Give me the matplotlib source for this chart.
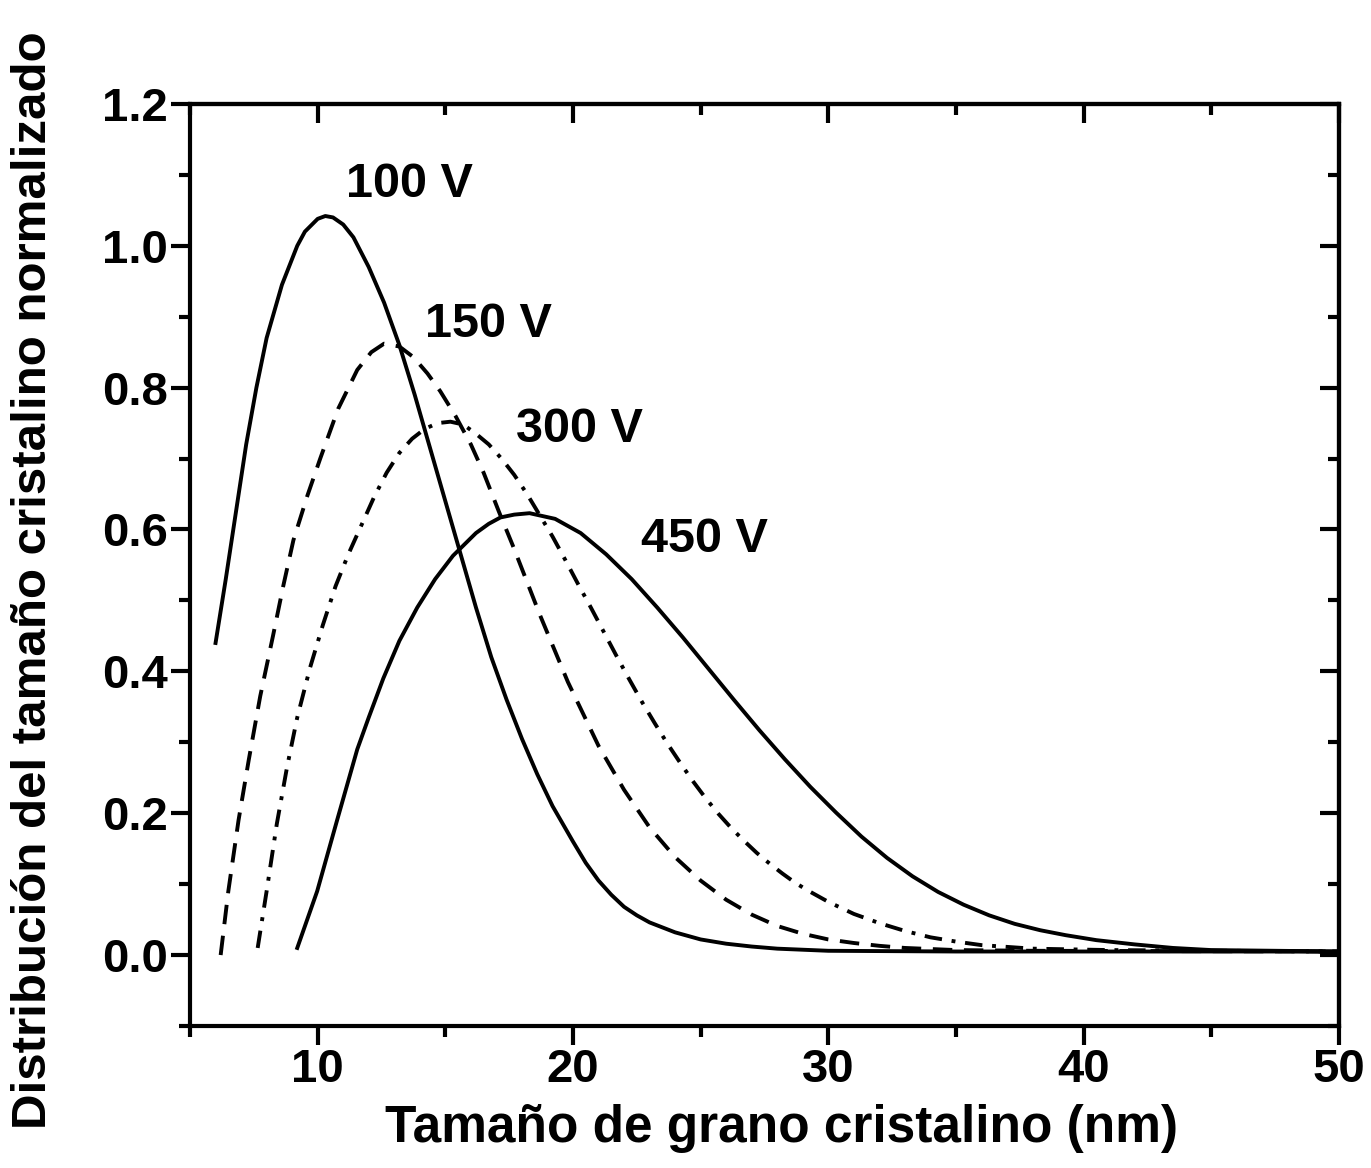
import numpy as np
import matplotlib
matplotlib.use("Agg")
import matplotlib.pyplot as plt
from matplotlib.ticker import MultipleLocator

plt.rcParams['font.family'] = ['Liberation Sans', 'DejaVu Sans']
plt.rcParams['font.weight'] = 'bold'

# values
x_100 = [6.0, 6.4, 6.8, 7.2, 7.6, 8.0, 8.6, 9.2, 9.5, 10.0, 10.3, 10.6, 11.0, 11.4, 12.0, 12.6,
         13.2, 13.8, 14.4, 15.0, 15.6, 16.2, 16.8, 17.4, 18.0, 18.6, 19.2, 20.0, 20.5, 21.0,
         21.5, 22.0, 22.5, 23.0, 24.0, 25.0, 26.0, 27.0, 28.0, 30.0, 35.0, 50.0]
y_100 = [0.44, 0.53, 0.625, 0.72, 0.80, 0.87, 0.945, 1.0, 1.02, 1.038, 1.042, 1.04, 1.03,
         1.012, 0.97, 0.92, 0.86, 0.79, 0.715, 0.64, 0.565, 0.49, 0.42, 0.36, 0.305, 0.255,
         0.21, 0.16, 0.13, 0.105, 0.085, 0.068, 0.056, 0.046, 0.032, 0.022, 0.016, 0.012,
         0.009, 0.006, 0.005, 0.005]

x_150 = [6.2, 6.5, 6.9, 7.3, 7.75, 8.25, 8.65, 9.05, 9.6, 10.1, 10.8, 11.55, 12.1, 12.6, 13.2,
         13.75, 14.3, 14.8, 15.4, 16.0, 16.5, 17.1, 17.67, 18.7, 19.8, 21.0, 22.0, 23.0, 24.0,
         25.0, 26.0, 27.0, 28.0, 29.0, 30.0, 31.0, 32.0, 33.0, 35.0, 38.0, 50.0]
y_150 = [0.0, 0.09, 0.19, 0.275, 0.365, 0.45, 0.52, 0.585, 0.648, 0.70, 0.77, 0.825, 0.85,
         0.862, 0.858, 0.843, 0.82, 0.795, 0.76, 0.72, 0.68, 0.625, 0.575, 0.48, 0.385, 0.295,
         0.233, 0.18, 0.138, 0.105, 0.078, 0.057, 0.041, 0.03, 0.022, 0.017, 0.013, 0.010,
         0.007, 0.006, 0.005]

x_300 = [7.65, 8.0, 8.4, 8.8, 9.2, 9.7, 10.2, 10.7, 11.2, 11.7, 12.2, 12.7, 13.2, 13.7, 14.2,
         14.7, 15.2, 15.7, 16.2, 16.7, 17.2, 17.7, 18.2, 18.7, 19.2, 19.7, 20.2, 20.7, 21.2,
         21.7, 22.2, 22.7, 23.2, 23.7, 24.2, 24.7, 25.2, 25.7, 26.2, 26.7, 27.2, 27.7, 28.2,
         28.7, 29.2, 30.0, 31.0, 32.0, 33.0, 34.0, 35.0, 36.0, 38.0, 41.0, 50.0]
y_300 = [0.01, 0.09, 0.185, 0.265, 0.335, 0.405, 0.465, 0.52, 0.565, 0.605, 0.645, 0.68,
         0.708, 0.728, 0.742, 0.75, 0.752, 0.748, 0.735, 0.72, 0.70, 0.677, 0.65, 0.62, 0.59,
         0.557, 0.523, 0.49, 0.456, 0.422, 0.389, 0.357, 0.327, 0.298, 0.271, 0.245, 0.221,
         0.199, 0.179, 0.161, 0.144, 0.129, 0.115, 0.102, 0.091, 0.075, 0.058, 0.045, 0.034,
         0.025, 0.019, 0.014, 0.009, 0.007, 0.005]

x_450 = [9.2, 9.98, 10.76, 11.55, 12.0, 12.57, 13.2, 13.9, 14.6, 15.3, 16.2, 16.7, 17.16, 17.7,
         18.3, 19.3, 20.3, 21.3, 22.3, 23.3, 24.3, 25.3, 26.3, 27.3, 28.3, 29.3, 30.3, 31.3,
         32.3, 33.3, 34.3, 35.3, 36.3, 37.3, 38.3, 39.3, 40.5, 42.0, 43.5, 45.0, 50.0]
y_450 = [0.01, 0.09, 0.19, 0.29, 0.335, 0.39, 0.443, 0.49, 0.53, 0.563, 0.595, 0.608, 0.617,
         0.621, 0.623, 0.615, 0.595, 0.565, 0.53, 0.49, 0.448, 0.404, 0.36, 0.317, 0.276,
         0.237, 0.201, 0.167, 0.137, 0.111, 0.089, 0.071, 0.056, 0.044, 0.035, 0.028, 0.021,
         0.015, 0.01, 0.007, 0.005]

labels = ["100 V", "150 V", "300 V", "450 V"]
label_x = [11.1, 14.2, 17.75, 22.65]
label_y = [1.086, 0.889, 0.741, 0.586]

fig = plt.figure(figsize=(13.71, 11.68), dpi=100)
ax = fig.add_axes([0.1386, 0.1216, 0.838, 0.7894])

lw = 2.8
ax.plot(x_100, y_100, color='black', lw=lw, solid_joinstyle='round')
ax.plot(x_150, y_150, color='black', lw=lw, dashes=(5, 3))
ax.plot(x_300, y_300, color='black', lw=lw, dashes=(4.5, 2.5, 1, 2.5))
ax.plot(x_450, y_450, color='black', lw=lw, solid_joinstyle='round')

for t, tx, ty in zip(labels, label_x, label_y):
    ax.text(tx, ty, t, fontsize=35, fontweight='bold', ha='left', va='center')

ax.set_xlim(5, 50)
ax.set_ylim(-0.1, 1.2)
ax.xaxis.set_minor_locator(MultipleLocator(5))
ax.yaxis.set_minor_locator(MultipleLocator(0.1))
ax.set_xticks([10, 20, 30, 40, 50])
ax.set_yticks([0.0, 0.2, 0.4, 0.6, 0.8, 1.0, 1.2])
ax.set_yticklabels(['0.0', '0.2', '0.4', '0.6', '0.8', '1.0', '1.2'])

for s in ax.spines.values():
    s.set_linewidth(3)

ax.tick_params(which='major', direction='out', length=14, width=3, labelsize=34, pad=2)
ax.tick_params(which='minor', direction='out', length=8, width=3)

secx = ax.secondary_xaxis('top')
secx.xaxis.set_major_locator(MultipleLocator(10))
secx.xaxis.set_minor_locator(MultipleLocator(5))
secx.tick_params(which='major', direction='in', length=14, width=3, labeltop=False)
secx.tick_params(which='minor', direction='in', length=8, width=3)
secx.spines['top'].set_linewidth(3)

secy = ax.secondary_yaxis('right')
secy.yaxis.set_major_locator(MultipleLocator(0.2))
secy.yaxis.set_minor_locator(MultipleLocator(0.1))
secy.tick_params(which='major', direction='in', length=14, width=3, labelright=False)
secy.tick_params(which='minor', direction='in', length=8, width=3)
secy.spines['right'].set_linewidth(3)

ax.set_xlabel('Tamaño de grano cristalino (nm)', fontsize=37, fontweight='bold')
ax.xaxis.set_label_coords(0.515, -0.085)
ax.set_ylabel('Distribución del tamaño cristalino normalizado', fontsize=35.5,
              fontweight='bold')
ax.yaxis.set_label_coords(-0.117, 0.484)

fig.savefig('out.png', dpi=100, facecolor='white')
